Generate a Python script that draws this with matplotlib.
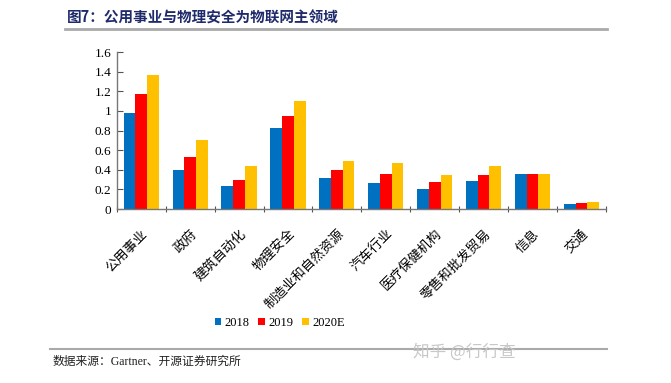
import numpy as np
import matplotlib.pyplot as plt

plt.rcParams['font.family'] = ['Liberation Serif', 'Noto Sans CJK SC']

# data
categories = ['公用事业', '政府', '建筑自动化', '物理安全', '制造业和自然资源',
              '汽车行业', '医疗保健机构', '零售和批发贸易', '信息', '交通']
v2018 = [0.98, 0.40, 0.235, 0.83, 0.32, 0.27, 0.21, 0.29, 0.36, 0.05]
v2019 = [1.17, 0.53, 0.30, 0.95, 0.40, 0.36, 0.28, 0.35, 0.36, 0.065]
v2020 = [1.37, 0.70, 0.44, 1.10, 0.49, 0.47, 0.35, 0.44, 0.36, 0.075]
years = ['2018', '2019', '2020E']
colors = ['#0070C0', '#FF0000', '#FFC000']

fig = plt.figure(figsize=(6.71, 3.83), dpi=100)
ax = fig.add_axes([0.174, 0.454, 0.729, 0.41])

x = np.arange(len(categories))
w = 0.24
for i, (vals, lab, c) in enumerate(zip([v2018, v2019, v2020], years, colors)):
    ax.bar(x + (i - 1) * w, vals, width=w, color=c, label=lab)

ax.set_xlim(-0.5, len(categories) - 0.5)
ax.set_ylim(0, 1.6)
ax.set_yticks([0, 0.2, 0.4, 0.6, 0.8, 1, 1.2, 1.4, 1.6])
ax.set_yticklabels(['0', '0.2', '0.4', '0.6', '0.8', '1', '1.2', '1.4', '1.6'], fontsize=9.5)

# ticks at group boundaries, labels at centers
ax.set_xticks(np.arange(len(categories) + 1) - 0.5)
ax.set_xticklabels([])
ax.set_xticks(x, minor=True)
ax.set_xticklabels(categories, minor=True, rotation=45, ha='right', va='top',
                   fontsize=9.5, family=['Noto Sans CJK SC'], rotation_mode='anchor')
ax.tick_params(axis='x', which='minor', length=0, pad=13)
ax.tick_params(axis='x', which='major', direction='inout', length=4, color='#555555')
ax.tick_params(axis='y', direction='in', length=4, color='#555555', pad=4)

for s in ['top', 'right']:
    ax.spines[s].set_visible(False)
for s in ['left', 'bottom']:
    ax.spines[s].set_color('#777777')
    ax.spines[s].set_linewidth(1.0)

ax.legend(loc='center', bbox_to_anchor=(0.333, -0.726), ncol=3, frameon=False,
          fontsize=9, handlelength=0.55, handleheight=0.55, handletextpad=0.25,
          columnspacing=0.7)

# title and source
fig.text(0.1, 0.955, '图7：公用事业与物理安全为物联网主领域', fontsize=10.5, fontweight='bold',
         color='#1F2A6B', family=['Noto Sans CJK SC'], va='center')
fig.add_artist(plt.Line2D([0.097, 0.905], [0.924, 0.924], color='#AAAAAA', lw=2))
fig.add_artist(plt.Line2D([0.075, 0.905], [0.088, 0.088], color='#AAAAAA', lw=1.5))
fig.text(0.078, 0.055, '数据来源：Gartner、开源证券研究所', fontsize=8.5,
         family=['Liberation Serif', 'Noto Sans CJK SC'], va='center', color='#222222')
fig.text(0.615, 0.08, '知乎 @行行查', fontsize=12, family=['Noto Sans CJK SC'],
         va='center', color='#C8C8C8')

fig.savefig('out.png', dpi=100)
